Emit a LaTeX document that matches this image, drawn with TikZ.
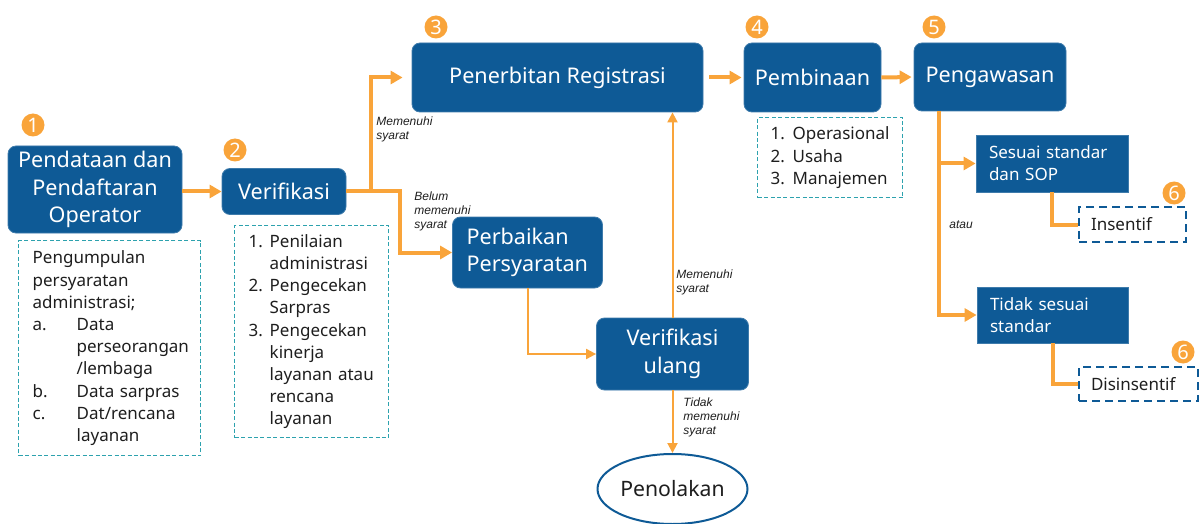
\documentclass[tikz,border=0pt]{standalone}
\usepackage{fontspec}
\setmainfont{Noto Sans}
\newfontfamily\labelfont{Liberation Sans}
\usepackage{tikz}
\usetikzlibrary{arrows.meta,positioning,calc,shapes.geometric}
\definecolor{stepblue}{RGB}{14, 90, 150}
\definecolor{floworange}{RGB}{249, 164, 58}
\definecolor{noteteal}{RGB}{45, 162, 174}
\definecolor{textdark}{RGB}{30, 30, 30}

\begin{document}
\begin{tikzpicture}[
    x=0.5pt, y=-0.5pt,
    stepbox/.style={fill=stepblue, draw=stepblue!80!white, line width=0.4pt, rounded corners=4pt, text=white, font=\fontsize{10.8}{13.8}\selectfont, align=center, inner sep=0pt},
    squarebox/.style={stepbox, rounded corners=0pt, font=\fontsize{8.5}{11}\selectfont, align=left, inner xsep=6.5pt},
    note/.style={draw=noteteal, dash pattern=on 2pt off 1.2pt, line width=0.7pt, font=\fontsize{8.5}{11.1}\selectfont, text=textdark, align=left, anchor=north west, inner xsep=7pt, inner ysep=0pt},
    reward/.style={draw=stepblue, dash pattern=on 4pt off 2.5pt, line width=1pt, font=\fontsize{8.5}{11}\selectfont, text=textdark, align=left, inner xsep=6pt, inner ysep=0pt},
    badge/.style={circle, fill=floworange, text=white, font=\bfseries\fontsize{10}{10}\selectfont, inner sep=0pt, minimum size=11.5pt},
    flow/.style={draw=floworange, line width=2pt, -{Triangle[length=6pt,width=6.5pt]}},
    thinflow/.style={draw=floworange, line width=1pt, -{Triangle[length=5pt,width=5pt]}},
    plainflow/.style={draw=floworange, line width=2pt},
    cond/.style={font=\labelfont\itshape\fontsize{6}{7}\selectfont, text=textdark, align=left, inner sep=0pt, anchor=north west}
]
\useasboundingbox (0,0) rectangle (1200,524);

% Nodes
\node (daftar) [stepbox, minimum width=87pt, minimum height=43.5pt] at (95,189.5) {Pendataan dan\\Pendaftaran\\Operator};
\node (verif) [stepbox, minimum width=62pt, minimum height=23pt] at (284,191.5) {Verifikasi};
\node (terbit) [stepbox, minimum width=145.5pt, minimum height=34.5pt] at (557.5,77.5) {Penerbitan Registrasi};
\node (bina) [stepbox, minimum width=68.5pt, minimum height=34.5pt] at (812.5,77.5) {Pembinaan};
\node (awas) [stepbox, minimum width=76pt, minimum height=34pt] at (990,77) {Pengawasan};
\node (perbaiki) [stepbox, align=left, text width=61pt, inner xsep=7pt, minimum height=35.5pt] at (527.5,252.5) {Perbaikan\\Persyaratan};
\node (ulang) [stepbox, minimum width=76pt, minimum height=36pt] at (672.5,354) {Verifikasi\\ulang};
\node (tolak) [ellipse, draw=stepblue, line width=1pt, fill=white, minimum width=75pt, minimum height=35pt, inner sep=0pt, font=\fontsize{10.6}{13}\selectfont, text=textdark] at (672.5,489) {Penolakan};
\node (sesuai) [squarebox, text width=63pt, minimum height=28.5pt] at (1052,163.5) {Sesuai standar\\dan SOP};
\node (tidak) [squarebox, text width=62.5pt, minimum height=28pt] at (1052.5,315) {Tidak sesuai\\standar};
\node (insentif) [reward, text width=41.5pt, minimum height=17.5pt] at (1132.5,224.5) {Insentif};
\node (disinsentif) [reward, text width=47.5pt, minimum height=17pt] at (1138.5,384) {Disinsentif};

% Notes
\node (noteA) [note, text width=77pt, minimum height=107.5pt] at (18,240) {%
    \begin{tabular}{@{}l@{}l@{}}
    \multicolumn{2}{@{}l@{}}{Pengumpulan}\\
    \multicolumn{2}{@{}l@{}}{persyaratan}\\
    \multicolumn{2}{@{}l@{}}{administrasi;}\\
    \makebox[22pt][l]{a.} & Data\\
     & perseorangan\\
     & /lembaga\\
    \makebox[22pt][l]{b.} & Data sarpras\\
    \makebox[22pt][l]{c.} & Dat/rencana\\
     & layanan
    \end{tabular}%
};
\node (noteB) [note, text width=63pt, minimum height=106pt] at (234,225) {
    \makebox[10.5pt][l]{1.}Penilaian\\\hspace*{10.5pt}administrasi\\
    \makebox[10.5pt][l]{2.}Pengecekan\\\hspace*{10.5pt}Sarpras\\
    \makebox[10.5pt][l]{3.}Pengecekan\\\hspace*{10.5pt}kinerja\\\hspace*{10.5pt}layanan atau\\\hspace*{10.5pt}rencana\\\hspace*{10.5pt}layanan
};
\node (noteC) [note, text width=59.5pt, inner xsep=6.5pt, minimum height=40pt] at (757,117) {
    \makebox[11pt][l]{1.}Operasional\\
    \makebox[11pt][l]{2.}Usaha\\
    \makebox[11pt][l]{3.}Manajemen
};

% Badges
\node (b1) [badge] at (33,125) {1};
\node (b2) [badge] at (235,150) {2};
\node (b3) [badge] at (436,27) {3};
\node (b4) [badge] at (757,27) {4};
\node (b5) [badge] at (934,27) {5};
\node (b6a) [badge] at (1174,193) {6};
\node (b6b) [badge] at (1183,352) {6};

% Connectors
\draw [flow] (daftar.east |- verif.west) -- (verif.west);
\draw [flow, shorten >=4.5pt] (verif.east) -- ++(25,0) coordinate (pilah) |- (terbit.west);
\draw [flow] (pilah) -- ++(29,0) |- (perbaiki.west);
\draw [flow, shorten <=3pt, shorten >=1pt] (terbit.east) -- (bina.west);
\draw [flow, shorten >=1pt] (bina.east) -- (awas.west);
\draw [thinflow] (perbaiki.south) |- (ulang.west);
\draw [thinflow] (ulang.north) -- (ulang.north |- terbit.south);
\draw [thinflow] (ulang.south) -- (tolak.north);
\draw [flow] (awas.south west) ++(25,0) coordinate (batang) |- (tidak.west);
\draw [flow] (batang |- sesuai.west) -- (sesuai.west);
\draw [plainflow] (sesuai.south) |- (insentif.west);
\draw [plainflow] (tidak.south) |- (disinsentif.west);

% Labels
\node (lblA) [cond] at (376,116) {Memenuhi\\syarat};
\node (lblB) [cond] at (414,191) {Belum\\memenuhi\\syarat};
\node (lblC) [cond] at (676,269) {Memenuhi\\syarat};
\node (lblD) [cond] at (683,397) {Tidak\\memenuhi\\syarat};
\node (lblE) [cond, anchor=west] at (949,225) {atau};

\end{tikzpicture}
\end{document}
